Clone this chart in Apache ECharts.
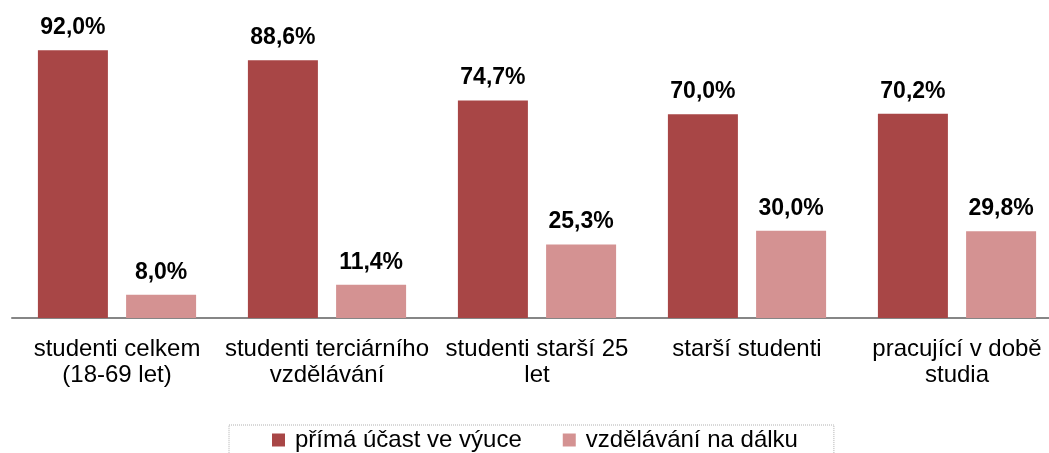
<!DOCTYPE html>
<html>
<head>
<meta charset="utf-8">
<script src="https://cdn.jsdelivr.net/npm/echarts@6/dist/echarts.min.js"></script>
<style>
  html, body { margin: 0; padding: 0; background: #fff; }
  #main { width: 1049px; height: 453px; }
</style>
</head>
<body>
<div id="main"></div>
<script>
var categories = ['studenti celkem\n(18-69 let)', 'studenti terciárního\nvzdělávání', 'studenti starší 25\nlet', 'starší studenti', 'pracující v době\nstudia'];
var seriesNames = ['přímá účast ve výuce', 'vzdělávání na dálku'];
var prima = [92.0, 88.6, 74.7, 70.0, 70.2];
var dalka = [8.0, 11.4, 25.3, 30.0, 29.8];

var chart = echarts.init(document.getElementById('main'));

function pct(p) {
  return p.value.toFixed(1).replace('.', ',') + '%';
}

var labelStyle = {
  show: true,
  position: 'top',
  distance: 11,
  formatter: pct,
  fontFamily: 'Liberation Sans, Arial, sans-serif',
  fontSize: 23,
  fontWeight: 'bold',
  color: '#000'
};

chart.setOption({
  animation: false,
  grid: { left: 12, right: -13, top: 27, bottom: 135, containLabel: false, outerBoundsMode: 'none' },
  legend: {
    left: 229,
    top: 425,
    padding: [3, 36, 20, 43],
    itemWidth: 13,
    itemHeight: 13,
    itemGap: 41,
    borderColor: '#b0b0b0',
    borderWidth: 1,
    borderType: 'dotted',
    icon: 'rect',
    textStyle: {
      fontFamily: 'Liberation Sans, Arial, sans-serif',
      fontSize: 24,
      color: '#000',
      padding: [0, 0, 0, 5]
    },
    data: seriesNames
  },
  xAxis: {
    type: 'category',
    data: categories,
    axisLine: { lineStyle: { color: '#868686', width: 2 } },
    axisTick: { show: false },
    axisLabel: {
      interval: 0,
      margin: 18,
      fontFamily: 'Liberation Sans, Arial, sans-serif',
      fontSize: 24,
      lineHeight: 26,
      color: '#000'
    }
  },
  yAxis: {
    type: 'value',
    min: 0,
    max: 100,
    show: false,
    splitLine: { show: false }
  },
  series: [{
    name: seriesNames[0],
    type: 'bar',
    data: prima,
    barWidth: 70,
    barGap: '26%',
    itemStyle: { color: '#a84646' },
    label: labelStyle
  }, {
    name: seriesNames[1],
    type: 'bar',
    data: dalka,
    barWidth: 70,
    itemStyle: { color: '#d49292' },
    label: labelStyle
  }]
});
</script>
</body>
</html>
